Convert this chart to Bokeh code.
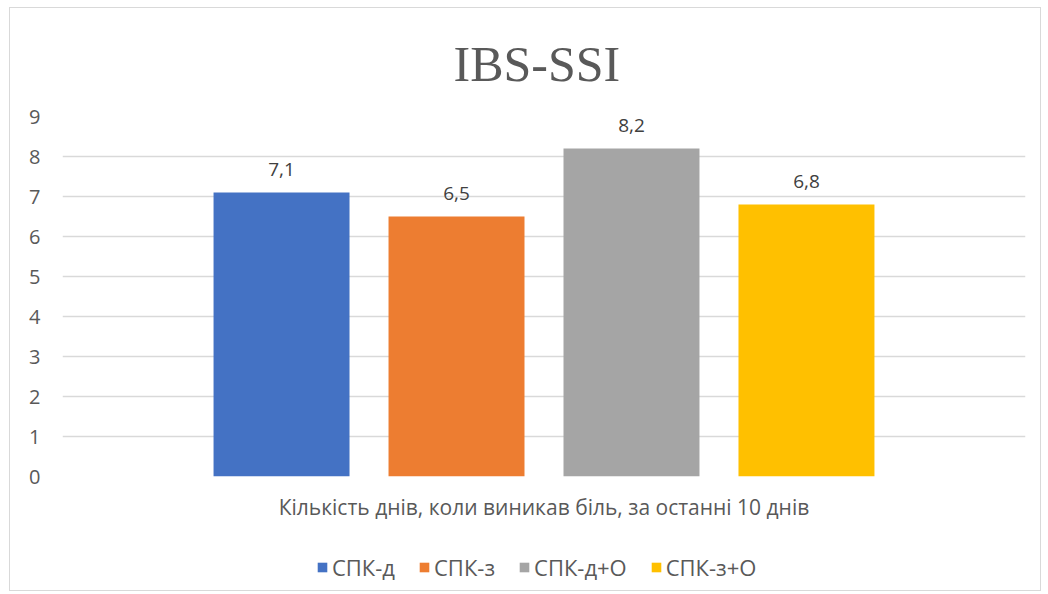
from bokeh.plotting import figure
from bokeh.models import ColumnDataSource, FactorRange, Range1d, Legend, LegendItem
from bokeh.layouts import column
from bokeh.transform import dodge
from bokeh.core.properties import value
from bokeh.embed import file_html
from bokeh.resources import INLINE

# ---- data ----
category = ["Кількість днів, коли виникав біль, за останні 10 днів"]
series = ["СПК-д", "СПК-з", "СПК-д+О", "СПК-з+О"]
values = [7.1, 6.5, 8.2, 6.8]
labels = ["7,1", "6,5", "8,2", "6,8"]
colors = ["#4472C4", "#ED7D31", "#A5A5A5", "#FFC000"]
y_ticks = [0, 1, 2, 3, 4, 5, 6, 7, 8, 9]
title_text = "IBS-SSI"

TXT = "#595959"
FONT = "Open Sans"

p = figure(width=1030, height=516, x_range=FactorRange(factors=category),
           y_range=Range1d(0, 9), output_backend="svg", toolbar_location=None,
           title=title_text)
p.min_border_left = 52
p.min_border_right = 15
p.min_border_top = 108
p.min_border_bottom = 48
p.outline_line_color = None
p.border_fill_color = "white"
p.background_fill_color = "white"

p.title.align = "left"
p.title.offset = 391
p.title.text_font = "Liberation Serif"
p.title.text_font_size = "50px"
p.title.text_font_style = "normal"
p.title.text_color = TXT
p.title.standoff = 50

bar_w = 0.1412
step = 0.1817
for i, (s, v, c) in enumerate(zip(series, values, colors)):
    off = (i - 1.5) * step
    src = ColumnDataSource(dict(x=category, top=[v], lab=[labels[i]]))
    p.vbar(x=dodge("x", off, range=p.x_range), top="top", width=bar_w,
           source=src, fill_color=c, line_color=None)
    p.text(x=dodge("x", off, range=p.x_range), y="top", text="lab", source=src,
           text_align="center", text_baseline="bottom", y_offset=-17,
           text_font=value(FONT), text_font_size="19px", text_color="#404040")

p.xaxis.axis_line_color = None
p.xaxis.major_tick_line_color = None
p.xaxis.minor_tick_line_color = None
p.xaxis.major_label_text_font = FONT
p.xaxis.major_label_text_font_size = "21px"
p.xaxis.major_label_text_color = TXT
p.xaxis.major_label_standoff = 10

p.yaxis.ticker = y_ticks
p.yaxis.axis_line_color = None
p.yaxis.major_tick_line_color = None
p.yaxis.minor_tick_line_color = None
p.yaxis.major_label_text_font = FONT
p.yaxis.major_label_text_font_size = "20px"
p.yaxis.major_label_text_color = TXT
p.yaxis.major_label_standoff = 16

p.xgrid.grid_line_color = None
p.ygrid.grid_line_color = "#D9D9D9"
p.ygrid.grid_line_width = 1.5

# ---- legend strip (same series, same colours) ----
q = figure(width=1030, height=66, x_range=FactorRange(factors=category),
           y_range=Range1d(100, 101), output_backend="svg", toolbar_location=None)
q.min_border = 0
q.min_border_left = 0
q.min_border_right = 0
q.min_border_top = 0
q.min_border_bottom = 0
q.axis.visible = False
q.grid.visible = False
q.outline_line_color = None
q.border_fill_color = "white"
q.background_fill_color = "white"
renderers = []
for i, (s, v, c) in enumerate(zip(series, values, colors)):
    off = (i - 1.5) * step
    src = ColumnDataSource(dict(x=category, top=[v]))
    r = q.vbar(x=dodge("x", off, range=q.x_range), top="top", width=bar_w,
               source=src, fill_color=c, line_color=None)
    renderers.append(r)

legend = Legend(items=[LegendItem(label=s, renderers=[r]) for s, r in zip(series, renderers)],
                orientation="horizontal", location=(254, 8))
legend.label_text_font = FONT
legend.label_text_font_size = "22px"
legend.label_text_color = TXT
legend.glyph_width = 12
legend.glyph_height = 12
legend.label_standoff = 4
legend.spacing = 23
legend.padding = 4
legend.margin = 0
legend.border_line_color = None
legend.background_fill_alpha = 0
q.add_layout(legend, "center")

layout = column(p, q, spacing=0,
                styles={"margin-left": "10px", "margin-top": "8px",
                        "outline": "1px solid #D9D9D9"})

open("out.html", "w").write(file_html(layout, INLINE))
